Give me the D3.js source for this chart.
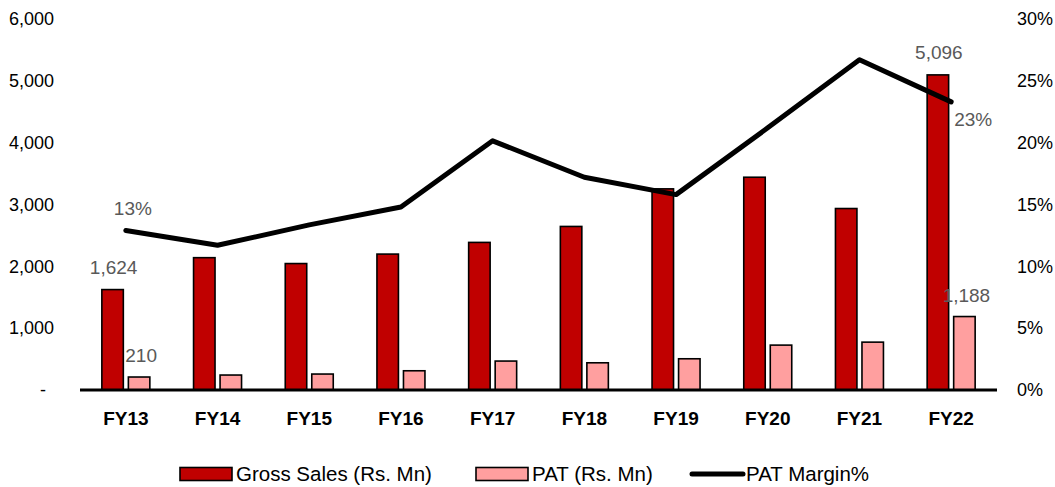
<!DOCTYPE html>
<html>
<head>
<meta charset="utf-8">
<script src="https://cdn.jsdelivr.net/npm/d3@7"></script>
<style>
  html, body { margin: 0; padding: 0; background: #fff; }
  svg { display: block; font-family: "Liberation Sans", Arial, sans-serif; }
</style>
</head>
<body>
<svg id="chart" width="1055" height="487"></svg>
<script>
// Financial summary, FY13–FY22
const years = ["FY13", "FY14", "FY15", "FY16", "FY17", "FY18", "FY19", "FY20", "FY21", "FY22"];
const grossSales = [1624, 2140, 2045, 2198, 2387, 2645, 3253, 3441, 2935, 5096];
const pat = [210, 242, 258, 311, 468, 440, 505, 726, 774, 1188];
const patMargin = [0.129, 0.117, 0.1335, 0.148, 0.2015, 0.172, 0.158, 0.212, 0.267, 0.233];
const leftTicks = [0, 1000, 2000, 3000, 4000, 5000, 6000];
const rightTicks = [0, 0.05, 0.10, 0.15, 0.20, 0.25, 0.30];
const seriesKeys = ["gross", "pat"];
const seriesNames = ["Gross Sales (Rs. Mn)", "PAT (Rs. Mn)", "PAT Margin%"];

// Values that carry a data label
const labelledGross = { "FY13": true, "FY22": true };
const labelledPat = { "FY13": true, "FY22": true };
const labelledMargin = { "FY13": "above", "FY22": "right" };

const colors = { gross: "#C00000", pat: "#FF9F9F", line: "#000000" };
const fontFamily = "Liberation Sans, Arial, sans-serif";

const svg = d3.select("#chart");
const plot = { left: 80, right: 997, top: 19, bottom: 390 };

const x = d3.scaleBand().domain(years).range([plot.left, plot.right]).paddingInner(0).paddingOuter(0);
const bw = x.bandwidth();
const x1 = d3.scaleBand().domain(seriesKeys).range([bw / 2 - 24, bw / 2 + 24]).paddingInner(0.19).paddingOuter(0);
const yL = d3.scaleLinear().domain([0, 6000]).range([plot.bottom, plot.top]);
const yR = d3.scaleLinear().domain([0, 0.30]).range([plot.bottom, plot.top]);

// Left axis
const fmtNum = d3.format(",");
const gL = svg.append("g")
  .attr("transform", `translate(${plot.left - 26},0)`)
  .call(d3.axisLeft(yL).tickValues(leftTicks).tickSize(0).tickPadding(0)
    .tickFormat(d => d === 0 ? "-" : fmtNum(d)));
gL.select(".domain").remove();
gL.selectAll("text")
  .attr("font-size", 18).attr("fill", "#000").attr("font-family", fontFamily)
  .attr("x", d => d === 0 ? -8 : 0);

// Right axis
const gR = svg.append("g")
  .attr("transform", `translate(${plot.right + 20},0)`)
  .call(d3.axisRight(yR).tickValues(rightTicks).tickSize(0).tickPadding(0)
    .tickFormat(d3.format(".0%")));
gR.select(".domain").remove();
gR.selectAll("text")
  .attr("font-size", 18).attr("fill", "#000").attr("font-family", fontFamily);

// Category axis labels
const gX = svg.append("g")
  .attr("transform", `translate(0,${plot.bottom + 22})`)
  .call(d3.axisBottom(x).tickSize(0).tickPadding(0));
gX.select(".domain").remove();
gX.selectAll("text")
  .attr("font-size", 19).attr("font-weight", "bold").attr("fill", "#000")
  .attr("font-family", fontFamily).attr("dy", "0.7em");

// Bars
const rows = years.map((yr, i) => ({ yr, gross: grossSales[i], pat: pat[i], margin: patMargin[i] }));
const groups = svg.append("g").selectAll("g")
  .data(rows).join("g")
  .attr("transform", d => `translate(${x(d.yr)},0)`);

groups.selectAll("rect")
  .data(d => seriesKeys.map(k => ({ key: k, value: d[k] })))
  .join("rect")
  .attr("x", d => x1(d.key))
  .attr("width", x1.bandwidth())
  .attr("y", d => yL(d.value))
  .attr("height", d => yL(0) - yL(d.value))
  .attr("fill", d => colors[d.key])
  .attr("stroke", "#000")
  .attr("stroke-width", 1.6);

// Category axis line
svg.append("line")
  .attr("x1", plot.left).attr("x2", plot.right)
  .attr("y1", yL(0)).attr("y2", yL(0))
  .attr("stroke", "#000").attr("stroke-width", 3);

// Margin line
const line = d3.line()
  .x(d => x(d.yr) + bw / 2)
  .y(d => yR(d.margin));
svg.append("path")
  .datum(rows)
  .attr("d", line)
  .attr("fill", "none")
  .attr("stroke", colors.line)
  .attr("stroke-width", 5)
  .attr("stroke-linejoin", "round")
  .attr("stroke-linecap", "round");

// Data labels
const labelColor = "#595959";
const labels = svg.append("g")
  .attr("font-size", 19).attr("fill", labelColor)
  .attr("font-family", fontFamily)
  .attr("text-anchor", "middle");

rows.filter(d => labelledGross[d.yr]).forEach(d => {
  labels.append("text")
    .attr("x", x(d.yr) + x1("gross") + x1.bandwidth() / 2 + 1)
    .attr("y", yL(d.gross) - 16)
    .text(fmtNum(d.gross));
});
rows.filter(d => labelledPat[d.yr]).forEach(d => {
  labels.append("text")
    .attr("x", x(d.yr) + x1("pat") + x1.bandwidth() / 2 + 2)
    .attr("y", yL(d.pat) - 15)
    .text(fmtNum(d.pat));
});
rows.filter(d => labelledMargin[d.yr]).forEach(d => {
  const px = x(d.yr) + bw / 2, py = yR(d.margin);
  const pos = labelledMargin[d.yr];
  labels.append("text")
    .attr("x", pos === "above" ? px + 7 : px + 22)
    .attr("y", pos === "above" ? py - 15 : py + 24)
    .text(d3.format(".0%")(d.margin));
});

// Legend
const legend = svg.append("g")
  .attr("font-size", 20.5).attr("fill", "#000")
  .attr("font-family", fontFamily);
const legendY = 474;
const legendItems = [
  { type: "rect", fill: colors.gross, x: 180, name: seriesNames[0] },
  { type: "rect", fill: colors.pat, x: 476, name: seriesNames[1] },
  { type: "line", fill: colors.line, x: 690, name: seriesNames[2] }
];
legendItems.forEach(it => {
  if (it.type === "rect") {
    legend.append("rect")
      .attr("x", it.x).attr("y", legendY - 6.5)
      .attr("width", 52).attr("height", 13)
      .attr("fill", it.fill).attr("stroke", "#000").attr("stroke-width", 1.6);
  } else {
    legend.append("line")
      .attr("x1", it.x + 2).attr("x2", it.x + 53)
      .attr("y1", legendY).attr("y2", legendY)
      .attr("stroke", it.fill).attr("stroke-width", 5).attr("stroke-linecap", "round");
  }
  legend.append("text")
    .attr("x", it.x + 56).attr("y", legendY)
    .attr("dy", "0.35em")
    .text(it.name);
});
</script>
</body>
</html>
